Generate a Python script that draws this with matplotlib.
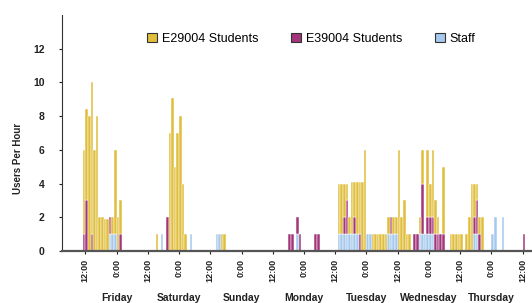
import numpy as np
import matplotlib.pyplot as plt
from matplotlib.patches import Patch

plt.rcParams['font.family'] = ['Liberation Sans', 'DejaVu Sans']

# hours counted from the first 12:00 tick (Thursday noon)
staff_hours = [9, 10, 11, 29, 40, 50, 51, 81,
               97, 98, 99, 100, 101, 102, 103, 104, 108, 109,
               116, 117, 118, 119, 128, 129, 130, 131, 132, 133,
               149, 150, 156, 157, 160]
staff_vals = [1, 1, 1, 1, 1, 1, 1, 1,
              1, 1, 1, 1, 1, 1, 1, 1, 1, 1,
              1, 1, 1, 1, 1, 1, 1, 1, 1, 1,
              1, 1, 1, 2, 2]

e39_hours = [-1, 0, 2, 9, 13, 31, 78, 79, 81, 82, 88, 89,
             99, 100, 103, 105, 117,
             126, 127, 129, 131, 132, 133, 134, 135, 136, 137,
             149, 150, 151, 168]
e39_vals = [1, 3, 1, 1, 1, 2, 1, 1, 1, 1, 1, 1,
            1, 2, 1, 1, 1,
            1, 1, 3, 1, 1, 1, 1, 1, 1, 1,
            1, 2, 1, 1]

e29_hours = [-1, 0, 1, 2, 3, 4, 5, 6, 7, 8, 10, 11, 12, 13,
             27, 32, 33, 34, 35, 36, 37, 38,
             52, 53,
             97, 98, 99, 100, 101, 102, 103, 104, 105, 106, 107,
             110, 111, 112, 113, 114, 115, 116, 118, 119, 120, 121, 122, 123, 124,
             128, 129, 131, 132, 133, 134, 135, 137,
             140, 141, 142, 143, 144,
             146, 147, 148, 149, 150, 151, 152]
e29_vals = [5, 5.4, 8, 9, 6, 8, 2, 2, 1.9, 1.9, 1, 5, 2, 2,
            1, 7, 9.1, 5, 7, 8, 4, 1,
            1, 1,
            3, 3, 2, 1, 1, 3.1, 2.1, 3.1, 3.1, 4.1, 6,
            1, 1, 1, 1, 1, 1, 1, 1, 1, 6, 2, 3, 1, 1,
            1, 2, 4, 2, 4, 2, 1, 4,
            1, 1, 1, 1, 1,
            1, 2, 4, 2, 1, 1, 2]

tick_hours = list(range(0, 169, 12))
tick_labels = ["12:00" if k % 2 == 0 else "0:00" for k in range(len(tick_hours))]
day_hours = [12, 36, 60, 84, 108, 132, 156]
day_names = ["Friday", "Saturday", "Sunday", "Monday", "Tuesday", "Wednesday", "Thursday"]

c_e29 = "#E0BD3B"
c_e39 = "#A3357A"
c_staff = "#A6C8EC"

hours = np.arange(-9, 172)


def fill(h, v):
    arr = np.zeros(len(hours))
    arr[np.array(h) + 9] = v
    return arr


staff = fill(staff_hours, staff_vals)
e39 = fill(e39_hours, e39_vals)
e29 = fill(e29_hours, e29_vals)

fig = plt.figure(figsize=(5.32, 3.03), dpi=100)
ax = fig.add_axes([0.1165, 0.1716, 0.883, 0.779])

bottom = np.zeros(len(hours))
for vals, col in [(staff, c_staff), (e39, c_e39), (e29, c_e29)]:
    m = vals > 0
    ax.bar(hours[m] + 0.5, vals[m], bottom=bottom[m], width=1, color=col,
           edgecolor="white", linewidth=0.35)
    bottom = bottom + vals

ax.set_xlim(-9, 171.5)
ax.set_ylim(0, 14)
ax.spines["top"].set_visible(False)
ax.spines["right"].set_visible(False)
ax.spines["left"].set_color("#333333")
ax.spines["bottom"].set_color("#555555")
ax.spines["bottom"].set_linewidth(1.6)

ax.set_yticks(range(0, 13, 2))
ax.tick_params(axis="y", direction="out", length=2.5, pad=10, labelsize=7.5, colors="#222222")
for t in ax.get_yticklabels():
    t.set_fontweight("bold")

ax.set_xticks(tick_hours)
ax.set_xticklabels(tick_labels, rotation=90, fontsize=6.5, fontweight="bold")
ax.tick_params(axis="x", direction="out", length=2, pad=4, colors="#222222")

trans = ax.get_xaxis_transform()
for h, name in zip(day_hours, day_names):
    ax.text(h, -0.197, name, transform=trans, ha="center", va="center",
            fontsize=7.5, fontweight="bold", color="#222222")

fig.text(18 / 532, 1 - 158 / 303, "Users Per Hour", rotation=90, ha="center", va="center",
         fontsize=7, fontweight="bold", color="#222222")

handles = [Patch(facecolor=c, edgecolor="#333333", linewidth=0.8) for c in (c_e29, c_e39, c_staff)]
ax.legend(handles, ["E29004 Students", "E39004 Students", "Staff"], loc="center",
          bbox_to_anchor=(0.53, 0.90), ncol=3, frameon=False, fontsize=9,
          handlelength=0.8, handleheight=0.8, handletextpad=0.4, columnspacing=2.6)

plt.savefig("out.png", dpi=100)
